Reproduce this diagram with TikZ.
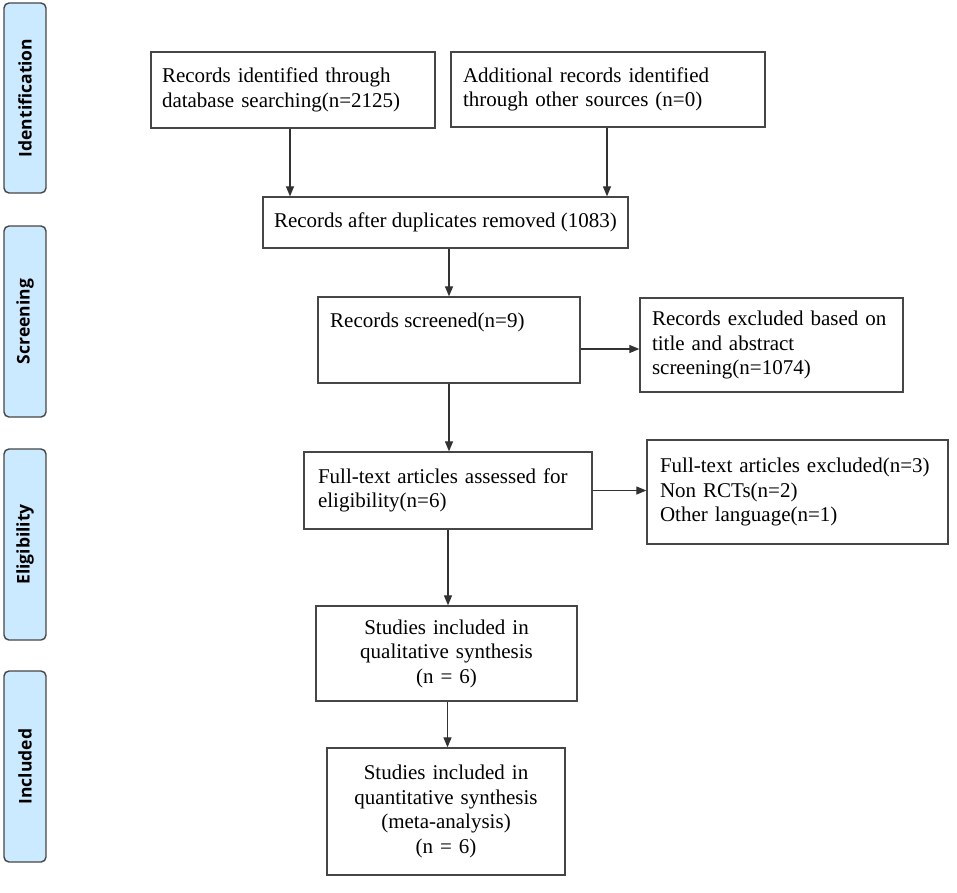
\documentclass[tikz,border=0pt]{standalone}
\usepackage{fontspec}
\setmainfont{Liberation Serif}
\newfontfamily\phasefont{Open Sans}
\usetikzlibrary{arrows.meta}
\definecolor{phasefill}{RGB}{204,234,255}
\definecolor{edgegray}{RGB}{70,70,70}
\definecolor{arrgray}{RGB}{50,50,50}
\begin{document}
\begin{tikzpicture}[x=1pt,y=-1pt,
  box/.style={draw=edgegray, line width=1.3pt, rectangle, inner ysep=0pt,
    font=\fontsize{21}{24.5}\selectfont},
  txt/.style={inner sep=0pt, font=\fontsize{21}{24.5}\selectfont, align=left},
  phase/.style={draw=edgegray, line width=1.4pt, fill=phasefill, rounded corners=5pt,
    rotate=90, minimum height=42pt, inner sep=0pt, font=\phasefont\bfseries\fontsize{17.5}{19}\selectfont},
  arr/.style={draw=arrgray, line width=1.2pt, -{Triangle[width=8pt,length=10pt]}}]
\useasboundingbox (0,0) rectangle (957,892);
\fill[white] (0,0) rectangle (957,892);

% phase bars
\node[phase, minimum width=190pt] (pid) at (25,98) {Identification};
\node[phase, minimum width=191pt] (pscr) at (25,321.5) {Screening};
\node[phase, minimum width=191pt] (pel) at (25,544.5) {Eligibility};
\node[phase, minimum width=191pt] (pinc) at (25,766.5) {Included};

% boxes
\node[box, minimum width=284pt, minimum height=76pt, inner xsep=11pt, text width=262pt, align=left] (b1) at (293,90)
  {Records identified through\\database searching(n=2125)};
\node[box, minimum width=314pt, minimum height=75pt, inner xsep=12pt, text width=290pt, align=left] (b2) at (608,89.5)
  {Additional records identified\\through other sources (n=0)};
\node[box, minimum width=365pt, minimum height=51pt, inner xsep=0pt] (dup) at (445.5,222.5)
  {Records after duplicates removed (1083)};
\node[box, minimum width=262pt, minimum height=86pt] (scr) at (449,340) {};
\node[txt, anchor=west] (scrt) at (330,322) {Records screened(n=9)};
\node[box, minimum width=263pt, minimum height=94pt, inner xsep=12pt, text width=239pt, align=left] (ex1) at (771.5,345)
  {Records excluded based on\\title and abstract\\screening(n=1074)};
\node[box, minimum width=288pt, minimum height=77pt, inner xsep=14pt, text width=260pt, align=left] (ass) at (448,490.5)
  {Full-text articles assessed for\\eligibility(n=6)};
\node[box, minimum width=301pt, minimum height=104pt, inner xsep=13pt, text width=275pt, align=left] (ex2) at (797.5,492)
  {Full-text articles excluded(n=3)\\Non RCTs(n=2)\\Other language(n=1)};
\node[box, minimum width=261pt, minimum height=95pt, inner xsep=8pt, text width=245pt, align=center] (qual) at (446.5,653.5)
  {Studies included in\\qualitative synthesis\\(n = 6)};
\node[box, minimum width=238pt, minimum height=127pt, inner xsep=6pt, text width=226pt, align=center] (incl) at (446,811.5)
  {Studies included in\\quantitative synthesis\\(meta-analysis)\\(n = 6)};

% connectors
\draw[arr] ([xshift=-3pt]b1.south) -- ([xshift=-3pt]b1.south |- dup.north);
\draw[arr] ([xshift=-1pt]b2.south) -- ([xshift=-1pt]b2.south |- dup.north);
\draw[arr] (scr.north |- dup.south) -- (scr.north);
\draw[arr] (scr.south) -- (scr.south |- ass.north);
\draw[arr] ([yshift=-9pt]scr.east) -- ([yshift=-9pt]scr.east -| ex1.west);
\draw[arr] (ass.east) -- (ass.east -| ex2.west);
\draw[arr] (ass.south) -- (ass.south |- qual.north);
\draw[arr] ([xshift=1pt]qual.south) -- ([xshift=1pt]qual.south |- incl.north);
\end{tikzpicture}
\end{document}
